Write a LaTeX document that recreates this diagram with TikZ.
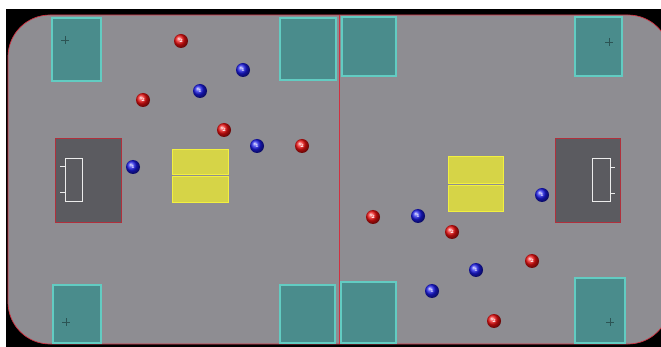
\documentclass[tikz,border=0pt]{standalone}
\usepackage{tikz}
\definecolor{fieldgray}{HTML}{8E8D92}
\definecolor{zoneteal}{HTML}{4A8C8C}
\definecolor{zoneedge}{HTML}{62CCC2}
\definecolor{goaldark}{HTML}{5B5B60}
\definecolor{goaledge}{HTML}{B0303C}
\definecolor{yellowbox}{HTML}{D6D447}
\definecolor{yellowedge}{HTML}{F2F040}
\definecolor{linered}{HTML}{D03040}
\definecolor{redball}{HTML}{F01010}
\definecolor{blueball}{HTML}{1A1AE8}
\tikzset{
  zone/.style={fill=zoneteal, draw=zoneedge, line width=1.2pt},
  goalbox/.style={fill=goaldark, draw=goaledge, line width=0.8pt},
  frame/.style={draw=white!85!gray, line width=1pt},
  ybox/.style={fill=yellowbox, draw=yellowedge, line width=1pt},
  rball/.style={circle, inner sep=0pt, minimum size=14pt, ball color=redball, font=\fontsize{5}{5}\selectfont\bfseries, text=white},
  bball/.style={circle, inner sep=0pt, minimum size=14pt, ball color=blueball, font=\fontsize{5}{5}\selectfont\bfseries, text=white},
  plus/.style={draw=black!40!zoneteal, line width=0.5pt}
}
\begin{document}
\begin{tikzpicture}[x=1pt,y=-1pt]
\useasboundingbox (0,0) rectangle (661,347);
\clip (0,0) rectangle (661,347);
\fill[white] (0,0) rectangle (661,347);
\fill[black] (6,9) rectangle (661,347);
% field
\fill[fieldgray, draw=linered, line width=0.7pt, rounded corners=42pt] (8,15) rectangle (670,344);
\draw[linered, line width=1pt] (339,15) -- (339,344);
% zones
\draw[zone] (52,18) rectangle (101,81);
\draw[zone] (280,18) rectangle (336,80);
\draw[zone] (342,17) rectangle (396,76);
\draw[zone] (575,17) rectangle (622,76);
\draw[zone] (53,285) rectangle (101,343);
\draw[zone] (280,285) rectangle (335,343);
\draw[zone] (341,282) rectangle (396,343);
\draw[zone] (575,278) rectangle (625,343);
\draw[plus] (61,40) -- (69,40) (65,36) -- (65,44);
\draw[plus] (605,42) -- (613,42) (609,38) -- (609,46);
\draw[plus] (62,322) -- (70,322) (66,318) -- (66,326);
\draw[plus] (606,322) -- (614,322) (610,318) -- (610,326);
% goals
\draw[goalbox] (55,138) rectangle (121,222);
\draw[frame] (65,159) rectangle (82,202);
\draw[frame] (60,167) -- (65,167) (60,193) -- (65,193);
\draw[goalbox] (555,138) rectangle (620,222);
\draw[frame] (592,159) rectangle (610,202);
\draw[frame] (610,168) -- (615,168) (610,194) -- (615,194);
% yellow boxes
\draw[ybox] (172,150) rectangle (228,175);
\draw[ybox] (172,177) rectangle (228,203);
\draw[ybox] (448,157) rectangle (503,184);
\draw[ybox] (448,186) rectangle (503,212);
% balls left half
\node[rball] (r1) at (181,41) {2};
\node[bball] (b1) at (243,70) {1};
\node[bball] (b2) at (200,91) {1};
\node[rball] (r2) at (143,100) {2};
\node[rball] (r3) at (224,130) {2};
\node[bball] (b3) at (257,146) {1};
\node[rball] (r4) at (302,146) {2};
\node[bball] (b4) at (133,167) {1};
% balls right half
\node[bball] (b5) at (542,195) {1};
\node[rball] (r5) at (373,217) {2};
\node[bball] (b6) at (418,216) {1};
\node[rball] (r6) at (452,232) {2};
\node[rball] (r7) at (532,261) {2};
\node[bball] (b7) at (476,270) {1};
\node[bball] (b8) at (432,291) {1};
\node[rball] (r8) at (494,321) {2};
\end{tikzpicture}
\end{document}
